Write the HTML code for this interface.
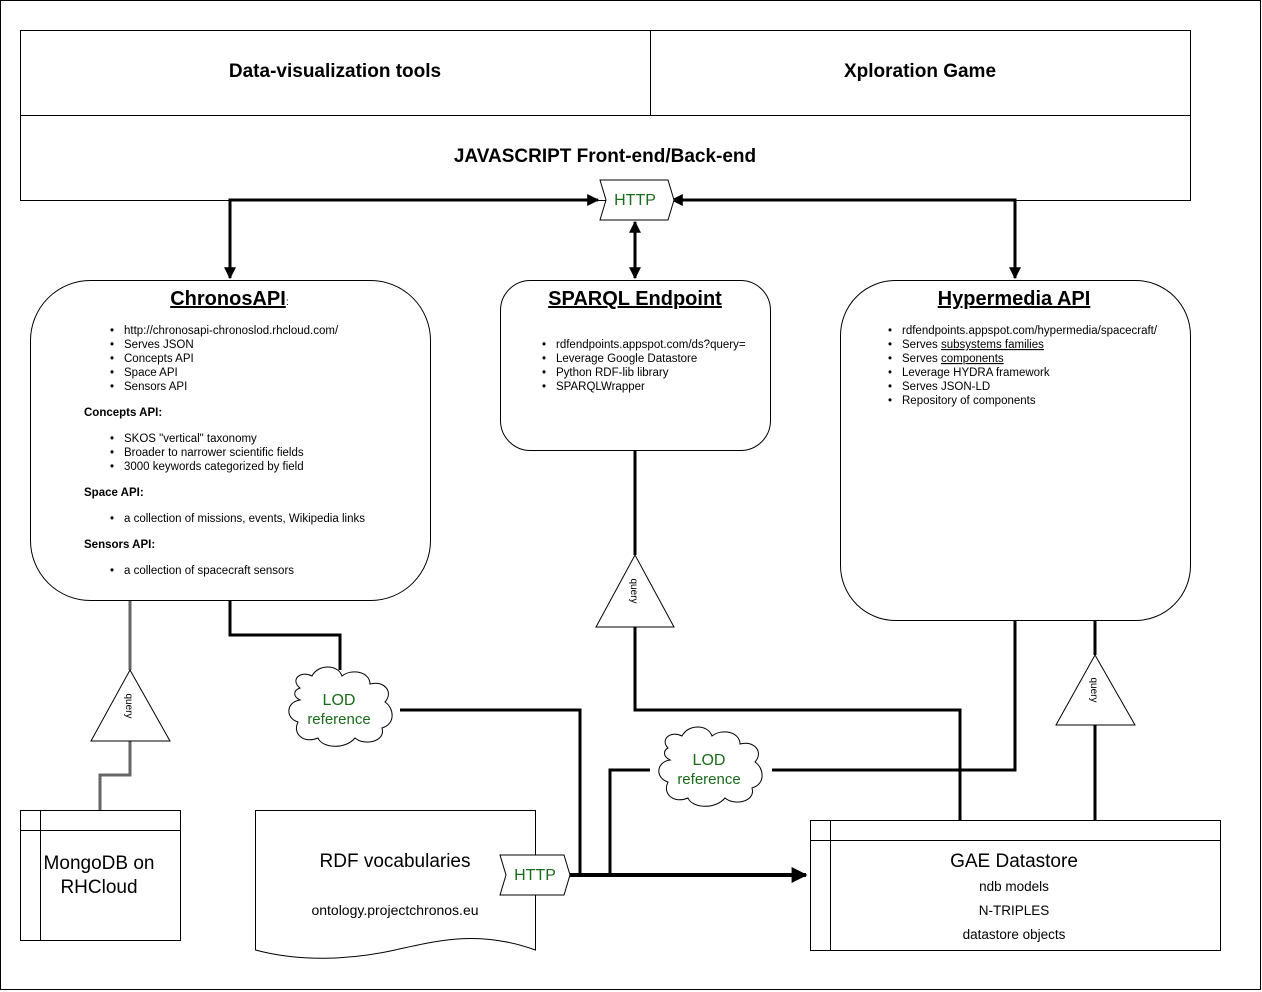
<!DOCTYPE html>
<html><head><meta charset="utf-8"><style>
html,body{margin:0;padding:0;background:#fff;}
svg{display:block;font-family:"Liberation Sans",sans-serif;}
</style></head><body>
<svg width="1262" height="992" viewBox="0 0 1262 992" xmlns="http://www.w3.org/2000/svg">
<defs>
<marker id="ah" viewBox="0 0 10 10" refX="9" refY="5" markerWidth="4" markerHeight="4" orient="auto-start-reverse" markerUnits="strokeWidth"><path d="M0,0 L10,5 L0,10 z" fill="#000"/></marker>
</defs>
<rect x="0.5" y="0.5" width="1260" height="989" fill="#fff" stroke="#000"/>
<!-- top boxes -->
<rect x="20.5" y="30.5" width="630" height="85" fill="#fff" stroke="#000"/>
<rect x="650.5" y="30.5" width="540" height="85" fill="#fff" stroke="#000"/>
<rect x="20.5" y="115.5" width="1170" height="85" fill="#fff" stroke="#000"/>
<text x="335" y="77" font-size="19" font-weight="bold" text-anchor="middle">Data-visualization tools</text>
<text x="920" y="77" font-size="19" font-weight="bold" text-anchor="middle">Xploration Game</text>
<text x="605" y="162" font-size="19" font-weight="bold" text-anchor="middle">JAVASCRIPT Front-end/Back-end</text>

<!-- connectors top -->
<g stroke="#000" stroke-width="3" fill="none">
<polyline points="230,278 230,200 598,200" marker-end="url(#ah)" marker-start="url(#ah)"/>
<polyline points="1015,278 1015,200 672,200" marker-end="url(#ah)" marker-start="url(#ah)"/>
<line x1="635" y1="222" x2="635" y2="278" marker-end="url(#ah)" marker-start="url(#ah)"/>
</g>
<polygon points="600,180 668,180 674,200 668,220 600,220 606,200" fill="#fff" stroke="#000"/>
<text x="635" y="205" font-size="16" fill="#1a6b1a" text-anchor="middle">HTTP</text>

<!-- Chronos box -->
<rect x="30.5" y="280.5" width="400" height="320" rx="60" fill="#fff" stroke="#000"/>
<text x="228" y="305" font-size="20" font-weight="bold" text-anchor="middle" text-decoration="underline">ChronosAPI</text>
<text x="286" y="305" font-size="10">:</text>
<g font-size="11.5">
<g><text x="110" y="334">•</text><text x="124" y="334">http://chronosapi-chronoslod.rhcloud.com/</text></g>
<text x="110" y="348">•</text><text x="124" y="348">Serves JSON</text>
<text x="110" y="362">•</text><text x="124" y="362">Concepts API</text>
<text x="110" y="376">•</text><text x="124" y="376">Space API</text>
<text x="110" y="390">•</text><text x="124" y="390">Sensors API</text>
<text x="84" y="416" font-weight="bold">Concepts API:</text>
<text x="110" y="442">•</text><text x="124" y="442">SKOS "vertical" taxonomy</text>
<text x="110" y="456">•</text><text x="124" y="456">Broader to narrower scientific fields</text>
<text x="110" y="470">•</text><text x="124" y="470">3000 keywords categorized by field</text>
<text x="84" y="496" font-weight="bold">Space API:</text>
<text x="110" y="522">•</text><text x="124" y="522">a collection of missions, events, Wikipedia links</text>
<text x="84" y="548" font-weight="bold">Sensors API:</text>
<text x="110" y="574">•</text><text x="124" y="574">a collection of spacecraft sensors</text>
</g>

<!-- SPARQL box -->
<rect x="500.5" y="280.5" width="270" height="170" rx="30" fill="#fff" stroke="#000"/>
<text x="635" y="305" font-size="20" font-weight="bold" text-anchor="middle" text-decoration="underline">SPARQL Endpoint</text>
<g font-size="11.5">
<text x="542" y="348">•</text><text x="556" y="348">rdfendpoints.appspot.com/ds?query=</text>
<text x="542" y="362">•</text><text x="556" y="362">Leverage Google Datastore</text>
<text x="542" y="376">•</text><text x="556" y="376">Python RDF-lib library</text>
<text x="542" y="390">•</text><text x="556" y="390">SPARQLWrapper</text>
</g>

<!-- Hypermedia box -->
<rect x="840.5" y="280.5" width="350" height="340" rx="55" fill="#fff" stroke="#000"/>
<text x="1014" y="305" font-size="20" font-weight="bold" text-anchor="middle" text-decoration="underline">Hypermedia API</text>
<g font-size="11.5">
<text x="888" y="334">•</text><text x="902" y="334">rdfendpoints.appspot.com/hypermedia/spacecraft/</text>
<text x="888" y="348">•</text><text x="902" y="348">Serves <tspan text-decoration="underline">subsystems families</tspan></text>
<text x="888" y="362">•</text><text x="902" y="362">Serves <tspan text-decoration="underline">components</tspan></text>
<text x="888" y="376">•</text><text x="902" y="376">Leverage HYDRA framework</text>
<text x="888" y="390">•</text><text x="902" y="390">Serves JSON-LD</text>
<text x="888" y="404">•</text><text x="902" y="404">Repository of components</text>
</g>

<!-- lower connectors -->
<g stroke="#666" stroke-width="3" fill="none">
<polyline points="130,601 130,670"/>
<polyline points="130,741 130,775 100,775 100,810"/>
</g>
<g stroke="#000" stroke-width="3" fill="none">
<polyline points="230,601 230,635 340,635 340,670"/>
<polyline points="400,710 580,710 580,875"/>
<polyline points="635,451 635,555"/>
<polyline points="635,627 635,710 960,710 960,820"/>
<polyline points="1015,621 1015,770 772,770"/>
<polyline points="650,770 610,770 610,875"/>
<polyline points="1095,621 1095,655"/>
<polyline points="1095,725 1095,820"/>
<line x1="570" y1="875" x2="806" y2="875" stroke-width="4" marker-end="url(#ah)"/>
</g>

<!-- triangles -->
<polygon points="130,670 170,741 91,741" fill="#fff" stroke="#000"/>
<text transform="translate(126,706) rotate(90)" font-size="10" text-anchor="middle">query</text>
<polygon points="635,555 674,627 596,627" fill="#fff" stroke="#000"/>
<text transform="translate(631,591) rotate(90)" font-size="10" text-anchor="middle">query</text>
<polygon points="1095,655 1135,725 1056,725" fill="#fff" stroke="#000"/>
<text transform="translate(1091,690) rotate(90)" font-size="10" text-anchor="middle">query</text>

<!-- clouds -->
<g fill="#fff" stroke="#000">
<path d="M300,688 C290,680 300,670 312,676 C318,664 338,664 342,676 C352,668 370,672 370,684 C384,680 394,692 385,702 C394,708 396,724 382,728 C386,742 364,746 355,738 C345,750 322,748 318,738 C304,744 292,734 298,722 C285,718 286,702 300,700 C292,696 294,690 300,688 Z"/>
<path d="M668,748 C660,740 670,730 682,736 C688,724 708,724 712,736 C722,728 740,732 740,744 C754,740 764,752 755,762 C764,768 766,784 752,788 C756,802 734,806 725,798 C715,810 692,808 688,798 C674,804 662,794 668,782 C655,778 656,762 670,760 C662,756 664,750 668,748 Z"/>
</g>
<text x="339" y="705" font-size="16" fill="#1a6b1a" text-anchor="middle">LOD</text>
<text x="339" y="724" font-size="15" fill="#1a6b1a" text-anchor="middle">reference</text>
<text x="709" y="765" font-size="16" fill="#1a6b1a" text-anchor="middle">LOD</text>
<text x="709" y="784" font-size="15" fill="#1a6b1a" text-anchor="middle">reference</text>

<!-- MongoDB -->
<rect x="20.5" y="810.5" width="160" height="130" fill="#fff" stroke="#000"/>
<line x1="40.5" y1="810" x2="40.5" y2="940" stroke="#000"/>
<line x1="20" y1="830.5" x2="180" y2="830.5" stroke="#000"/>
<text x="99" y="869" font-size="19" text-anchor="middle">MongoDB on</text>
<text x="99" y="893" font-size="19" text-anchor="middle">RHCloud</text>

<!-- RDF document -->
<path d="M255.5,810.5 L535.5,810.5 L535.5,950 C480,930 440,940 395,950 C350,960 300,962 255.5,950 Z" fill="#fff" stroke="#000"/>
<text x="395" y="867" font-size="19" text-anchor="middle">RDF vocabularies</text>
<text x="395" y="915" font-size="14" text-anchor="middle">ontology.projectchronos.eu</text>
<polygon points="500,855 564,855 570,875 564,895 500,895 506,875" fill="#fff" stroke="#000"/>
<text x="535" y="880" font-size="16" fill="#1a6b1a" text-anchor="middle">HTTP</text>

<!-- GAE -->
<rect x="810.5" y="820.5" width="410" height="130" fill="#fff" stroke="#000"/>
<line x1="830.5" y1="820" x2="830.5" y2="950" stroke="#000"/>
<line x1="810" y1="840.5" x2="1220" y2="840.5" stroke="#000"/>
<text x="1014" y="867" font-size="19" text-anchor="middle">GAE Datastore</text>
<text x="1014" y="891" font-size="13.5" text-anchor="middle">ndb models</text>
<text x="1014" y="915" font-size="13.5" text-anchor="middle">N-TRIPLES</text>
<text x="1014" y="939" font-size="13.5" text-anchor="middle">datastore objects</text>
</svg>
</body></html>
